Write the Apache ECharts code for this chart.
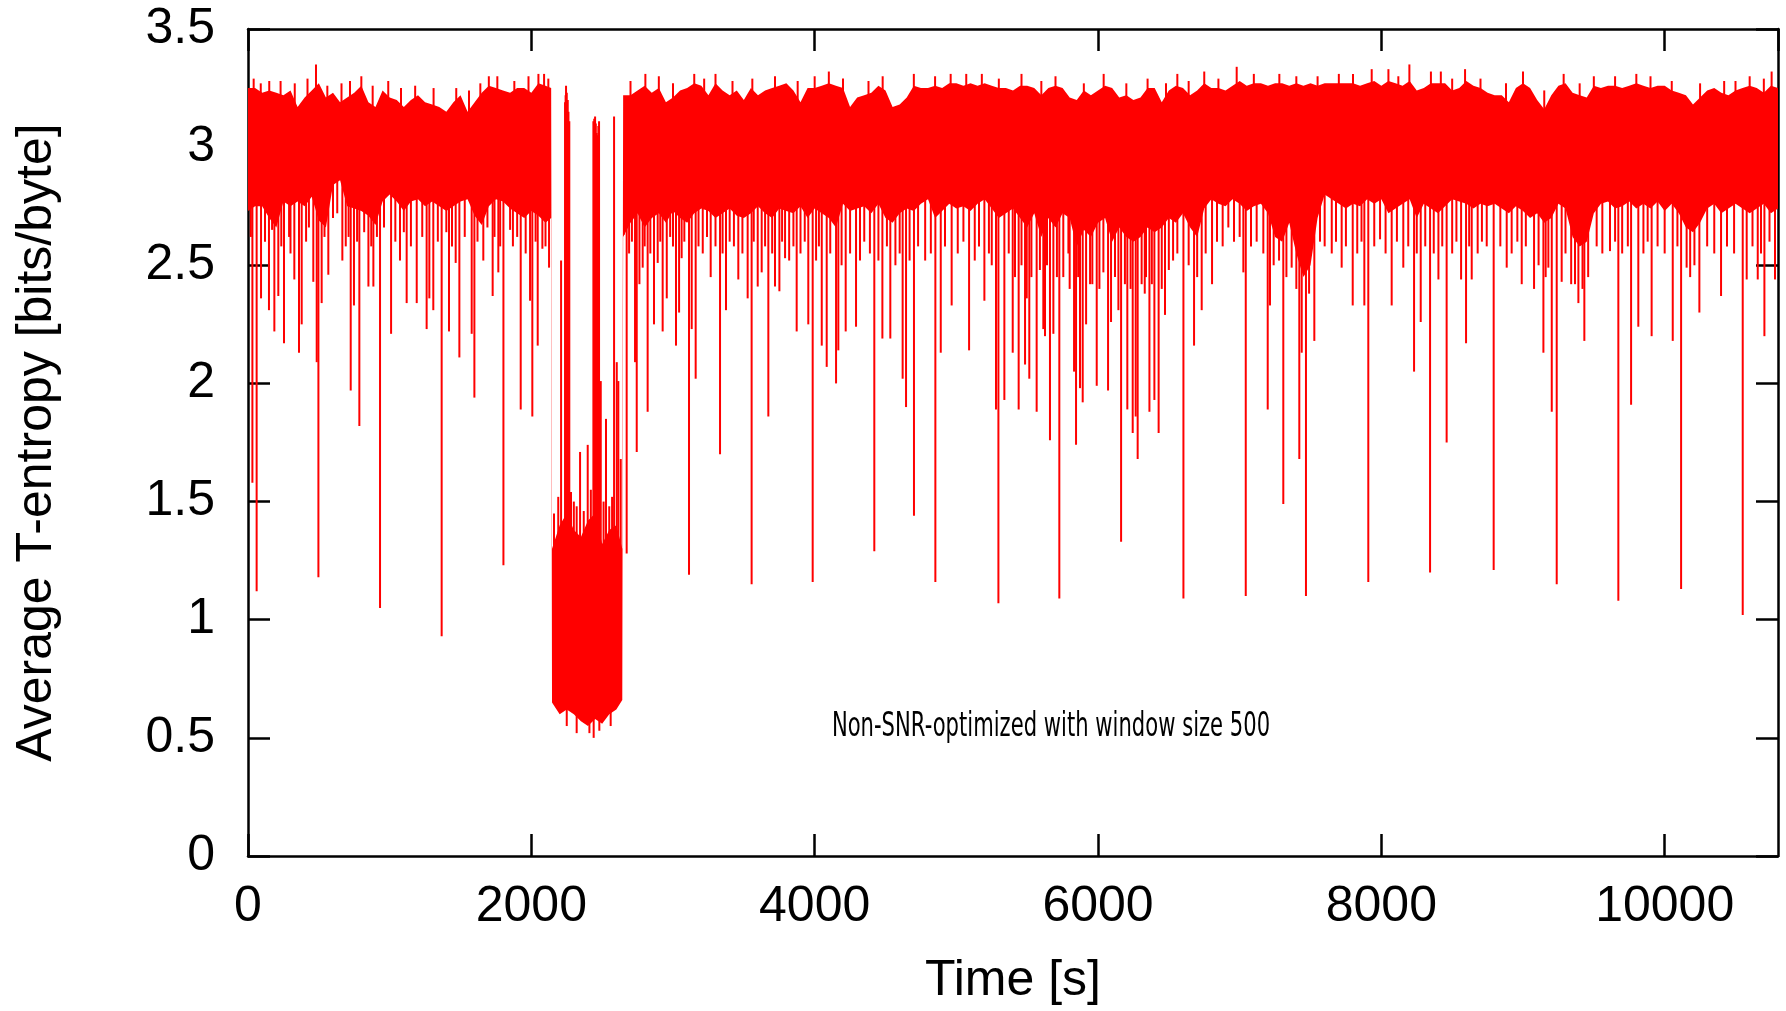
<!DOCTYPE html>
<html>
<head>
<meta charset="utf-8">
<title>Average T-entropy</title>
<script src="https://cdn.jsdelivr.net/npm/echarts@6/dist/echarts.min.js"></script>
<style>
  html, body { margin: 0; padding: 0; background: #fff; }
  #chart { width: 1786px; height: 1011px; }
</style>
</head>
<body>
<div id="chart"></div>
<script>
// dense band of the signal, sampled every 50 s (upper edge / solid lower edge)
var bandTime = [
  0,50,100,150,200,250,300,350,400,450,500,550,600,650,700,750,800,850,900,950,
  1000,1050,1100,1150,1200,1250,1300,1350,1400,1450,1500,1550,1600,1650,1700,1750,1800,1850,1900,1950,
  2000,2050,2100,2140,2146,2200,2250,2300,2350,2400,2450,2500,2550,2600,2642,2648,2700,2750,2800,2850,2900,2950,
  3000,3050,3100,3150,3200,3250,3300,3350,3400,3450,3500,3550,3600,3650,3700,3750,3800,3850,3900,3950,
  4000,4050,4100,4150,4200,4250,4300,4350,4400,4450,4500,4550,4600,4650,4700,4750,4800,4850,4900,4950,
  5000,5050,5100,5150,5200,5250,5300,5350,5400,5450,5500,5550,5600,5650,5700,5750,5800,5850,5900,5950,
  6000,6050,6100,6150,6200,6250,6300,6350,6400,6450,6500,6550,6600,6650,6700,6750,6800,6850,6900,6950,
  7000,7050,7100,7150,7200,7250,7300,7350,7400,7450,7500,7550,7600,7650,7700,7750,7800,7850,7900,7950,
  8000,8050,8100,8150,8200,8250,8300,8350,8400,8450,8500,8550,8600,8650,8700,8750,8800,8850,8900,8950,
  9000,9050,9100,9150,9200,9250,9300,9350,9400,9450,9500,9550,9600,9650,9700,9750,9800,9850,9900,9950,
  10000,10050,10100,10150,10200,10250,10300,10350,10400,10450,10500,10550,10600,10650,10700,10750,10800
];
var bandHigh = [
  3.25,3.25,3.23,3.24,3.23,3.22,3.24,3.17,3.21,3.24,3.27,3.21,3.23,3.19,3.21,3.23,3.26,3.19,3.17,3.24,
  3.21,3.20,3.17,3.20,3.22,3.19,3.18,3.17,3.15,3.19,3.22,3.15,3.19,3.23,3.26,3.25,3.24,3.23,3.25,3.25,
  3.23,3.27,3.26,3.25,1.30,1.40,1.45,1.38,1.35,1.42,1.45,1.32,1.38,1.40,1.30,3.22,3.22,3.24,3.26,3.23,3.25,3.19,
  3.21,3.24,3.25,3.27,3.26,3.22,3.27,3.24,3.22,3.24,3.20,3.25,3.22,3.24,3.25,3.26,3.27,3.24,3.19,3.25,
  3.25,3.26,3.27,3.26,3.25,3.17,3.21,3.22,3.23,3.26,3.24,3.17,3.18,3.21,3.26,3.25,3.25,3.26,3.25,3.27,
  3.27,3.26,3.27,3.26,3.27,3.26,3.25,3.25,3.24,3.26,3.26,3.25,3.22,3.25,3.26,3.25,3.21,3.20,3.24,3.22,
  3.24,3.26,3.25,3.21,3.22,3.20,3.21,3.25,3.25,3.19,3.24,3.26,3.25,3.22,3.24,3.27,3.25,3.25,3.24,3.26,
  3.28,3.26,3.27,3.27,3.26,3.27,3.27,3.26,3.27,3.26,3.27,3.26,3.27,3.27,3.27,3.27,3.27,3.26,3.27,3.28,
  3.26,3.28,3.27,3.26,3.28,3.24,3.25,3.27,3.27,3.27,3.24,3.25,3.28,3.26,3.25,3.23,3.22,3.22,3.19,3.25,
  3.27,3.25,3.20,3.16,3.22,3.26,3.27,3.23,3.22,3.21,3.26,3.25,3.26,3.26,3.25,3.26,3.27,3.26,3.25,3.26,
  3.26,3.24,3.23,3.22,3.18,3.21,3.24,3.25,3.23,3.22,3.24,3.25,3.26,3.25,3.23,3.26,3.25
];
var bandLow = [
  2.73,2.75,2.75,2.70,2.66,2.77,2.75,2.77,2.75,2.79,2.69,2.66,2.84,2.86,2.75,2.74,2.73,2.71,2.67,2.77,
  2.80,2.77,2.73,2.77,2.78,2.75,2.77,2.75,2.73,2.75,2.77,2.78,2.71,2.67,2.75,2.78,2.77,2.74,2.72,2.70,
  2.73,2.71,2.68,2.70,0.65,0.60,0.62,0.60,0.57,0.55,0.58,0.56,0.60,0.62,0.66,2.62,2.68,2.72,2.66,2.70,2.72,2.68,
  2.73,2.70,2.68,2.72,2.74,2.73,2.70,2.72,2.74,2.71,2.70,2.72,2.75,2.72,2.70,2.74,2.73,2.72,2.75,2.70,
  2.74,2.72,2.70,2.66,2.76,2.73,2.74,2.75,2.72,2.76,2.70,2.68,2.72,2.74,2.73,2.76,2.78,2.70,2.73,2.76,
  2.74,2.75,2.73,2.76,2.78,2.74,2.70,2.72,2.74,2.70,2.66,2.72,2.62,2.70,2.66,2.72,2.70,2.58,2.65,2.62,
  2.68,2.70,2.60,2.66,2.62,2.60,2.62,2.66,2.64,2.66,2.70,2.68,2.72,2.66,2.62,2.74,2.78,2.76,2.75,2.78,
  2.76,2.73,2.75,2.76,2.72,2.62,2.60,2.68,2.55,2.45,2.50,2.70,2.80,2.78,2.76,2.74,2.76,2.75,2.78,2.76,
  2.78,2.72,2.74,2.76,2.78,2.70,2.76,2.74,2.72,2.75,2.78,2.77,2.76,2.74,2.76,2.75,2.76,2.74,2.72,2.75,
  2.73,2.70,2.72,2.68,2.70,2.76,2.74,2.62,2.58,2.60,2.72,2.76,2.77,2.74,2.75,2.77,2.74,2.76,2.74,2.77,
  2.73,2.76,2.72,2.66,2.64,2.68,2.74,2.76,2.72,2.74,2.76,2.74,2.72,2.74,2.76,2.72,2.74
];

// single-sample excursions below the band [time s, value]
var drops = [
  [31,1.58],[61,1.12],[92,2.36],[148,2.31],[186,2.22],[214,2.37],[254,2.17],[327,2.44],[360,2.13],[379,2.25],
  [461,2.43],[485,2.09],[497,1.18],[520,2.34],[567,2.46],[666,2.52],[690,2.58],[725,1.97],[748,2.33],[786,1.82],
  [850,2.41],[885,2.41],[932,1.05],[1010,2.21],[1073,2.52],[1120,2.34],[1191,2.34],[1261,2.23],[1280,2.36],[1308,2.31],
  [1367,0.93],[1419,2.22],[1466,2.51],[1492,2.11],[1579,2.21],[1598,1.94],[1661,2.52],[1727,2.37],[1767,2.47],[1803,1.23],
  [1850,2.65],[1925,1.89],[1991,2.35],[2007,1.86],[2045,2.16],[2078,2.57],[2125,2.49],
  [2654,2.63],[2673,1.28],[2732,2.09],[2744,1.71],[2763,2.42],[2786,2.49],[2821,1.88],[2866,2.25],[2892,2.51],
  [2927,2.22],[2956,2.36],[3021,2.16],[3043,2.30],[3061,2.53],[3113,1.19],[3132,2.23],[3160,2.02],[3266,2.45],[3332,1.70],
  [3374,2.31],[3461,2.44],[3527,2.36],[3555,1.15],[3598,2.41],
  [3626,2.47],[3673,1.86],[3720,2.41],[3751,2.39],[3791,2.53],[3873,2.22],[3955,2.25],[3986,1.16],[4050,2.16],[4085,2.07],
  [4151,2.00],[4167,2.14],[4219,2.22],[4292,2.24],[4421,1.29],[4478,2.19],[4534,2.19],[4621,2.02],[4645,1.90],[4701,1.44],
  [4852,1.16],[4890,2.13],[4967,2.33],[5090,2.14],[5198,2.35],[5280,1.89],[5297,1.07],[5339,1.93],[5398,2.13],
  [5414,2.45],[5440,1.89],[5485,2.08],[5497,2.36],[5515,2.02],[5567,1.88],[5614,2.23],[5626,2.20],[5661,1.76],[5685,2.21],
  [5727,1.09],[5755,2.45],[5791,2.55],[5831,2.05],[5845,1.74],[5873,1.98],[5892,1.92],[5916,2.25],[5944,2.42],[5991,1.99],
  [6038,2.47],[6071,1.97],[6092,2.26],[6144,2.31],[6163,1.33],[6207,1.89],[6245,1.79],[6266,1.86],[6280,1.68],[6308,2.42],
  [6339,2.45],[6363,1.88],[6398,1.93],[6428,1.79],[6473,2.29],[6603,1.09],[6678,2.16],[6732,2.31],[6805,2.42],[6920,2.66],
  [7026,2.47],[7043,1.10],[7167,2.55],[7198,1.89],
  [7214,2.33],[7278,2.52],[7308,1.49],[7367,2.49],[7421,1.68],[7438,2.13],[7468,1.10],[7527,2.18],[7567,2.60],[7720,2.49],
  [7798,2.33],[7880,2.33],[7908,1.16],[7991,2.61],[8073,2.33],[8155,2.49],[8231,2.05],[8278,2.26],[8344,1.20],[8403,2.44],
  [8461,1.75],[8563,2.44],[8598,2.17],[8638,2.44],[8744,2.58],[8793,1.21],[8885,2.49],[8991,2.42],
  [9078,2.40],[9144,2.13],[9179,2.49],[9203,1.88],[9238,1.15],[9273,2.43],[9367,2.42],[9391,2.34],[9433,2.18],[9614,2.56],
  [9673,1.08],[9763,1.91],[9814,2.24],[9908,2.20],[10057,2.18],[10116,1.13],[10155,2.49],[10245,2.30],[10398,2.37],[10551,1.02],
  [10579,2.44],[10657,2.44],[10704,2.20],[10779,2.44]
];

// shorter excursions forming the comb under the band
var shortDrops = [
  [20,2.62],[120,2.60],[170,2.65],[235,2.58],[290,2.62],[300,2.55],[410,2.60],[430,2.66],[540,2.62],[600,2.70],
  [630,2.72],[710,2.62],[770,2.60],[820,2.64],[870,2.58],[910,2.62],[960,2.66],[1040,2.60],[1100,2.64],[1150,2.58],
  [1230,2.62],[1340,2.60],[1400,2.64],[1440,2.58],[1530,2.62],[1620,2.60],[1690,2.66],[1740,2.62],[1780,2.58],
  [1870,2.58],[1900,2.62],[1960,2.55],[2030,2.60],[2100,2.58],
  [2690,2.55],[2710,2.60],[2800,2.58],[2840,2.55],[2910,2.60],[2980,2.62],[3000,2.58],[3080,2.60],[3180,2.58],[3210,2.55],
  [3240,2.62],[3300,2.58],[3350,2.55],[3400,2.60],[3430,2.58],[3490,2.55],[3570,2.60],
  [3650,2.58],[3700,2.55],[3770,2.60],[3820,2.52],[3850,2.58],[3900,2.55],[3930,2.60],[4010,2.52],[4030,2.58],[4110,2.55],
  [4190,2.50],[4250,2.55],[4320,2.52],[4350,2.60],[4390,2.55],[4450,2.52],[4510,2.58],[4570,2.50],[4600,2.55],[4670,2.52],
  [4730,2.58],[4780,2.52],[4820,2.55],[4920,2.58],[5010,2.55],[5050,2.60],[5130,2.52],[5160,2.58],[5230,2.55],[5250,2.50],
  [5370,2.55],
  [5460,2.50],[5530,2.45],[5590,2.48],[5640,2.50],[5710,2.45],[5800,2.40],[5860,2.45],[5960,2.42],[6010,2.40],[6120,2.45],
  [6190,2.42],[6230,2.40],[6330,2.38],[6380,2.42],[6450,2.40],[6500,2.48],[6530,2.52],[6560,2.55],[6640,2.50],[6700,2.45],
  [6760,2.55],[6840,2.60],[6880,2.58],[6960,2.60],[7000,2.62],[7080,2.58],[7120,2.60],
  [7240,2.50],[7330,2.45],[7400,2.40],[7490,2.38],[7600,2.58],[7650,2.55],[7680,2.60],[7750,2.58],[7830,2.55],[7860,2.60],
  [7950,2.58],[8030,2.55],[8110,2.60],[8190,2.58],[8250,2.55],[8310,2.58],[8370,2.55],[8430,2.58],[8500,2.55],[8530,2.60],
  [8620,2.58],[8680,2.55],[8710,2.60],[8840,2.58],[8920,2.55],[8960,2.60],
  [9020,2.58],[9110,2.50],[9160,2.45],[9300,2.55],[9340,2.42],[9420,2.40],[9460,2.45],[9520,2.58],[9560,2.55],[9650,2.60],
  [9700,2.55],[9740,2.58],[9850,2.55],[9880,2.60],[9950,2.58],[10000,2.55],[10090,2.58],[10180,2.45],[10210,2.50],[10300,2.58],
  [10350,2.55],[10440,2.58],[10490,2.55],[10620,2.58],[10680,2.55],[10740,2.60]
];

// single-sample excursions above the band
var peaks = [
  [40,3.29],[90,3.27],[150,3.28],[230,3.28],[330,3.27],[420,3.29],[480,3.35],[560,3.26],[660,3.27],[720,3.28],
  [800,3.30],[880,3.26],[990,3.28],[1080,3.25],[1180,3.26],[1310,3.25],[1470,3.25],[1560,3.24],[1640,3.27],[1700,3.30],
  [1760,3.30],[1880,3.28],[1980,3.30],[2050,3.31],[2090,3.31],[2120,3.29],[2700,3.28],[2805,3.31],[2900,3.30],[3000,3.27],
  [3150,3.31],[3220,3.29],[3300,3.31],[3420,3.28],[3560,3.29],[3720,3.30],[3880,3.28],[4000,3.30],[4100,3.32],[4200,3.29],
  [4380,3.28],[4480,3.30],[4700,3.31],[4850,3.30],[4960,3.31],[5070,3.31],[5180,3.31],[5300,3.29],[5460,3.31],[5600,3.28],
  [5700,3.30],[5900,3.27],[6040,3.31],[6200,3.27],[6350,3.29],[6480,3.27],[6560,3.31],[6640,3.28],[6750,3.32],[6850,3.29],
  [6979,3.34],[7100,3.31],[7280,3.31],[7400,3.30],[7550,3.30],[7700,3.31],[7800,3.31],[7932,3.33],[8050,3.33],[8120,3.30],
  [8198,3.35],[8350,3.32],[8420,3.32],[8500,3.29],[8591,3.33],[8700,3.29],[8880,3.27],[9000,3.32],[9150,3.24],[9287,3.31],
  [9400,3.27],[9500,3.30],[9650,3.30],[9800,3.31],[9900,3.30],[10050,3.28],[10250,3.27],[10420,3.28],[10500,3.28],[10600,3.30],
  [10700,3.29],[10755,3.32]
];

// excursions inside the low-entropy interval (2140-2648 s)
var dipSpikes = [
  [2210,2.52],[2238,3.19],[2242,3.22],[2245,3.26],[2250,3.23],[2257,3.20],[2262,3.15],[2268,3.11],[2280,1.54],
  [2344,1.71],[2398,1.74],[2438,3.11],[2444,3.12],[2450,3.13],[2455,3.10],[2461,3.06],[2468,3.05],[2473,3.09],
  [2478,3.11],[2490,2.01],[2527,1.85],[2584,3.13],[2603,2.09],[2614,2.01],[2631,1.68],
  [2160,1.45],[2190,1.52],[2300,1.50],[2320,1.48],[2370,1.46],[2420,1.55],[2510,1.50],[2550,1.48],[2570,1.52],
  [2250,0.55],[2320,0.52],[2410,0.52],[2440,0.50],[2480,0.53],[2560,0.55]
];

var RED = '#ff0000';
var FONT = '"Liberation Sans", Arial, sans-serif';

function bandMid(t) {
  for (var i = 1; i < bandTime.length; i++) {
    if (t <= bandTime[i]) {
      var f = (t - bandTime[i - 1]) / (bandTime[i] - bandTime[i - 1]);
      var hi = bandHigh[i - 1] + f * (bandHigh[i] - bandHigh[i - 1]);
      var lo = bandLow[i - 1] + f * (bandLow[i] - bandLow[i - 1]);
      return (hi + lo) / 2;
    }
  }
  return (bandHigh[bandHigh.length - 1] + bandLow[bandLow.length - 1]) / 2;
}

function renderBand(params, api) {
  var pts = [];
  for (var i = 0; i < bandTime.length; i++) pts.push(api.coord([bandTime[i], bandHigh[i]]));
  for (var j = bandTime.length - 1; j >= 0; j--) pts.push(api.coord([bandTime[j], bandLow[j]]));
  return { type: 'polygon', shape: { points: pts }, style: { fill: RED } };
}

function renderSpike(params, api) {
  var t = api.value(0), v = api.value(1);
  var a = api.coord([t, bandMid(t)]);
  var b = api.coord([t, v]);
  return {
    type: 'line',
    shape: { x1: a[0], y1: a[1], x2: b[0], y2: b[1] },
    style: { stroke: RED, lineWidth: 2 }
  };
}

function frameLine() {
  return { show: true, onZero: false, lineStyle: { color: '#000', width: 2.5 } };
}
function frameTick() {
  return { show: true, inside: true, length: 22, lineStyle: { color: '#000', width: 2.5 } };
}

var chart = echarts.init(document.getElementById('chart'));

var option = {
  animation: false,
  backgroundColor: '#fff',
  grid: { left: 248, right: 8, top: 29, bottom: 154 },
  xAxis: [{
    type: 'value', min: 0, max: 10800, interval: 2000, position: 'bottom',
    axisLine: frameLine(), axisTick: frameTick(), splitLine: { show: false },
    axisLabel: {
      fontSize: 50, color: '#000', fontFamily: FONT, margin: 26, showMaxLabel: false,
      formatter: function (v) { return v % 2000 === 0 ? String(v) : ''; }
    },
    name: 'Time [s]', nameLocation: 'middle', nameGap: 100,
    nameTextStyle: { fontSize: 50, color: '#000', fontFamily: FONT }
  }, {
    type: 'value', min: 0, max: 10800, interval: 2000, position: 'top',
    axisLine: frameLine(), axisTick: frameTick(), splitLine: { show: false },
    axisLabel: { show: false }
  }],
  yAxis: [{
    type: 'value', min: 0, max: 3.5, interval: 0.5, position: 'left',
    axisLine: frameLine(), axisTick: frameTick(), splitLine: { show: false },
    axisLabel: { fontSize: 50, color: '#000', fontFamily: FONT, margin: 33 },
    name: 'Average T-entropy [bits/byte]', nameLocation: 'middle', nameGap: 186,
    nameTextStyle: { fontSize: 50, color: '#000', fontFamily: FONT }
  }, {
    type: 'value', min: 0, max: 3.5, interval: 0.5, position: 'right',
    axisLine: frameLine(), axisTick: frameTick(), splitLine: { show: false },
    axisLabel: { show: false }
  }],
  graphic: [{
    type: 'text', x: 1051, y: 727, scaleX: 0.64, z: 100,
    style: {
      text: 'Non-SNR-optimized with window size 500',
      fontSize: 33, fontFamily: '"DejaVu Sans", sans-serif', fill: '#000',
      align: 'center', verticalAlign: 'middle'
    }
  }],
  series: [{
    type: 'custom', name: 'band', clip: true, silent: true,
    renderItem: renderBand, data: [[0, 3]]
  }, {
    type: 'custom', name: 'drops', clip: true, silent: true,
    renderItem: renderSpike, data: drops
  }, {
    type: 'custom', name: 'shortDrops', clip: true, silent: true,
    renderItem: renderSpike, data: shortDrops
  }, {
    type: 'custom', name: 'peaks', clip: true, silent: true,
    renderItem: renderSpike, data: peaks
  }, {
    type: 'custom', name: 'dip', clip: true, silent: true,
    renderItem: renderSpike, data: dipSpikes
  }]
};

chart.setOption(option);
</script>
</body>
</html>
